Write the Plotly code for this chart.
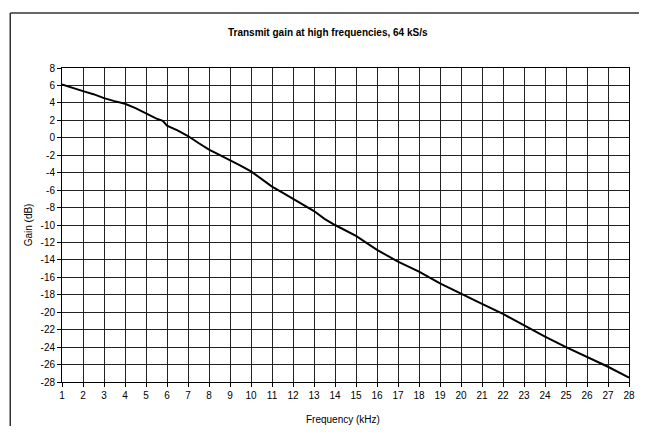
import plotly.graph_objects as go

freq_khz = [1, 1.5, 2, 2.5, 3, 3.5, 4, 4.5, 5, 5.5, 5.8, 5.9, 6, 6.5, 7, 7.5, 8, 8.5, 9,
            9.5, 10, 10.5, 11, 11.5, 12, 12.5, 13, 13.5, 14, 15, 16, 17, 18, 19, 20, 21,
            22, 23, 24, 25, 26, 27, 28]
gain_db = [6.1, 5.7, 5.35, 5.0, 4.55, 4.2, 3.9, 3.4, 2.8, 2.2, 1.95, 1.6, 1.4, 0.85, 0.2,
           -0.6, -1.35, -1.95, -2.55, -3.2, -3.85, -4.7, -5.6, -6.3, -7.0, -7.7, -8.4,
           -9.3, -10.0, -11.25, -12.85, -14.2, -15.35, -16.7, -17.9, -19.05, -20.2,
           -21.5, -22.8, -24.0, -25.15, -26.25, -27.5]

x_ticks = list(range(1, 29))
y_ticks = list(range(-28, 9, 2))

title_text = "Transmit gain at high frequencies, 64 kS/s"
x_title = "Frequency (kHz)"
y_title = "Gain (dB)"

FONT = "Liberation Sans, Arial, sans-serif"

fig = go.Figure()
fig.add_trace(go.Scatter(x=freq_khz, y=gain_db, mode="lines",
                         line=dict(color="black", width=2), showlegend=False,
                         hoverinfo="skip"))

# page body keeps its default 8px margin: the figure sits at (8, 8)
OFF = 8
W, H = 647 - 2 * OFF, 434 - 2 * OFF
L = 62 - OFF
T = 68 - OFF
R = W - (635 - OFF)
B = H - (382 - OFF)
pw, ph = W - L - R, H - T - B

def px_x(p):
    return (p - OFF - L) / pw

def px_y(p):
    return (H - B - (p - OFF)) / ph

border = dict(color="#333333", width=1.5)

fig.update_layout(
    width=W, height=H,
    margin=dict(l=L, r=R, t=T, b=B),
    paper_bgcolor="white", plot_bgcolor="white",
    font=dict(family=FONT, size=10, color="black"),
    xaxis=dict(range=[1, 28], tickmode="array", tickvals=x_ticks,
               ticktext=[str(v) for v in x_ticks], ticklabeloverflow="allow",
               showgrid=True, gridcolor="#222222", gridwidth=1,
               zeroline=False, showline=True, linecolor="black", linewidth=1,
               mirror=True, ticks="outside", ticklen=4, tickcolor="black",
               tickfont=dict(size=10, family=FONT)),
    yaxis=dict(range=[-28, 8], tickmode="array", tickvals=y_ticks,
               ticktext=[str(v) for v in y_ticks],
               showgrid=True, gridcolor="#222222", gridwidth=1,
               zeroline=False, showline=True, linecolor="black", linewidth=1,
               mirror=True, ticks="outside", ticklen=4, tickcolor="black",
               tickfont=dict(size=10, family=FONT)),
    shapes=[
        dict(type="line", xref="paper", yref="paper",
             x0=px_x(9.7), x1=px_x(9.7), y0=px_y(440), y1=px_y(13), line=border),
        dict(type="line", xref="paper", yref="paper",
             x0=px_x(9.7), x1=px_x(650), y0=px_y(13), y1=px_y(13), line=border),
    ],
    annotations=[
        dict(text="<b>" + title_text + "</b>", xref="paper", yref="paper",
             x=px_x(331), y=px_y(32), showarrow=False, xanchor="center",
             yanchor="middle", font=dict(size=10, family=FONT)),
        dict(text=x_title, xref="paper", yref="paper",
             x=px_x(346), y=px_y(419), showarrow=False, xanchor="center",
             yanchor="middle", font=dict(size=10, family=FONT)),
        dict(text=y_title, xref="paper", yref="paper",
             x=px_x(28), y=px_y(225), showarrow=False, xanchor="center",
             yanchor="middle", textangle=-90, font=dict(size=10, family=FONT)),
    ],
)

fig.write_html(
    "out.html",
    config={"responsive": False, "displayModeBar": False},
    post_script=(
        "document.documentElement.style.overflow='hidden';"
        "document.body.style.overflow='hidden';"
        "var s=document.querySelectorAll('svg.main-svg');"
        "for(var i=0;i<s.length;i++){s[i].style.overflow='visible';}"
        "var c=document.querySelectorAll('.svg-container');"
        "for(var j=0;j<c.length;j++){c[j].style.overflow='visible';}"
    ),
)
